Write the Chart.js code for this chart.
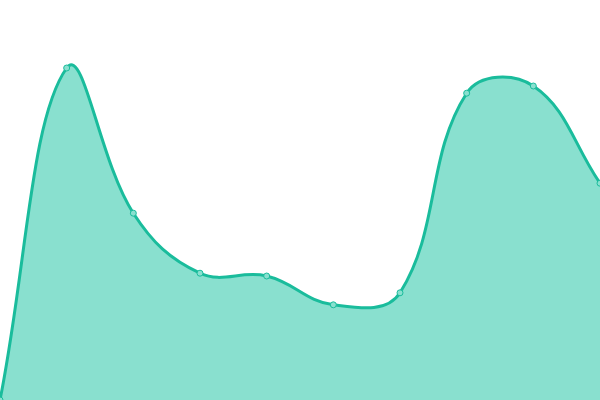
<!DOCTYPE html>
<html><head><meta charset="utf-8">
<script src="https://cdn.jsdelivr.net/npm/chart.js@4"></script>
<style>html,body{margin:0;padding:0;background:#fff}#w{width:600px;height:400px}</style>
</head><body><div id="w"><canvas id="c"></canvas></div>
<script>
const categories = ["1","2","3","4","5","6","7","8","9","10"];
const values = [0, 83, 46.7, 31.7, 31, 23.8, 26.8, 76.7, 78.5, 54.2];
new Chart(document.getElementById('c'), {
  type: 'line',
  data: { labels: categories, datasets: [{
    data: values,
    fill: 'start',
    backgroundColor: '#89e0cf',
    borderColor: '#1abc9c',
    borderWidth: 3,
    tension: 0.4,
    pointRadius: 3,
    pointBackgroundColor: '#89e0cf',
    pointBorderColor: '#1abc9c',
    pointBorderWidth: 1
  }]},
  options: {
    responsive: true, maintainAspectRatio: false, animation: false,
    layout: { padding: 0, autoPadding: false },
    plugins: { legend: { display: false }, tooltip: { enabled: false } },
    scales: {
      x: { display: false, offset: false },
      y: { display: false, min: 0, max: 100 }
    }
  }
});
</script></body></html>
